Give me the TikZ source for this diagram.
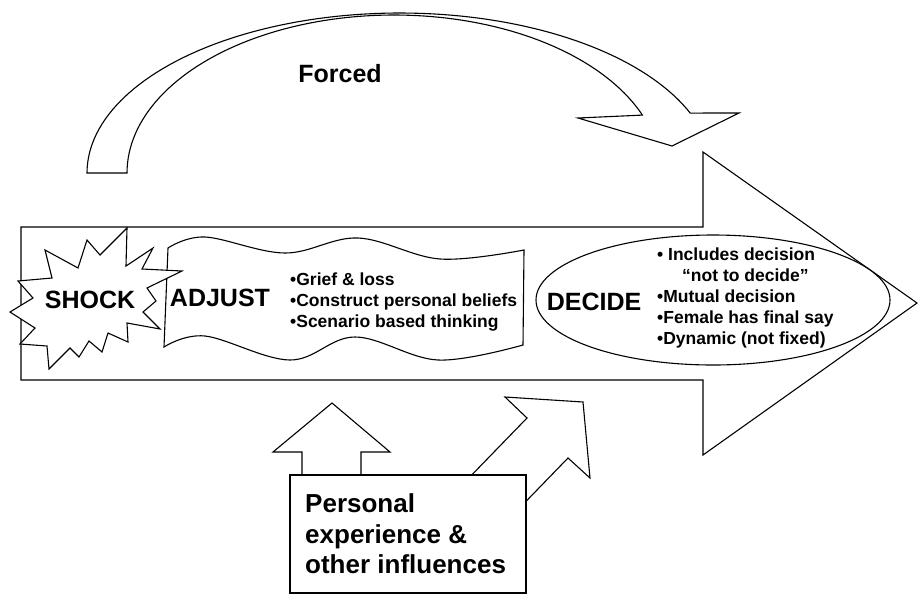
\documentclass[tikz,border=0pt]{standalone}
\usepackage{fontspec}
\setmainfont{Liberation Sans}
\begin{document}
\begin{tikzpicture}[x=1pt, y=-1pt, line join=miter,
  outline/.style={draw=black, line width=1.1pt, fill=white},
  big/.style={font=\fontsize{25}{30}\selectfont\bfseries, inner sep=0pt},
  small/.style={font=\fontsize{17.5}{21}\selectfont\bfseries, inner sep=0pt, anchor=base west},
  boxtext/.style={font=\fontsize{26}{31}\selectfont\bfseries, inner sep=0pt, anchor=base west}]
\useasboundingbox (0,0) rectangle (920,595);

% main process arrow
\draw[outline] (21,227) -- (703,227) -- (703,152) -- (917,303) -- (703,455)
  -- (703,380) -- (21,380) -- cycle;

% curved "forced" arrow over the top
\draw[outline]
  plot[domain=180:22, samples=90] ({400+313*cos(\x)},{173-160*sin(\x)})
  -- (739,113) -- (672,146) -- (578,118)
  -- plot[domain=21.5:180, samples=90] ({394+267*cos(\x)},{173-158*sin(\x)})
  -- cycle;

% wavy banner for the adjust stage
\draw[outline]
  plot[smooth, tension=0.6] coordinates {(168,248) (205,237) (285,253) (358,238) (440,259) (524,250)}
  -- plot[smooth, tension=0.6] coordinates {(523,345) (438,360) (355,337) (290,360) (205,336) (164,347)}
  -- cycle;

% starburst for the shock stage
\draw[outline] (127,228) -- (126,266) -- (153,248) -- (142,269) -- (182,271)
  -- (147,288) -- (156,301) -- (143,312) -- (160,329) -- (127,323) -- (128,342)
  -- (108,333) -- (102,352) -- (89,341) -- (79,357) -- (70,348) -- (49,369)
  -- (47,346) -- (20,344) -- (35,328) -- (10,312) -- (33,298) -- (18,281)
  -- (52,278) -- (45,250) -- (78,268) -- (87,240) -- (100,255) -- cycle;

% ellipse for the decide stage
\draw[outline] (713,300) ellipse [x radius=177pt, y radius=65pt];

% influence arrows below
\draw[outline] (302,485) -- (302,452) -- (273,452) -- (332,403) -- (390,452)
  -- (361,452) -- (361,485) -- cycle;
\draw[outline] (462,485) -- (527,418) -- (505,397) -- (583,402) -- (590,478)
  -- (568,458) -- (505,523) -- cycle;

% influences box
\draw[outline] (290,475) rectangle (526,593);

% labels
\node[big] (forced) at (340,74) {Forced};
\node[big] (shock) at (90,300) {SHOCK};
\node[big] (adjust) at (220,298) {ADJUST};
\node[big] (decide) at (594,302) {DECIDE};

\node[small] (g1) at (290,285) {•Grief \& loss};
\node[small] (g2) at (290,306) {•Construct personal beliefs};
\node[small] (g3) at (290,327) {•Scenario based thinking};

\node[small] (d1) at (657,260) {• Includes decision};
\node[small] (d2) at (682,281) {“not to decide”};
\node[small] (d3) at (657,302) {•Mutual decision};
\node[small] (d4) at (657,323) {•Female has final say};
\node[small] (d5) at (657,344) {•Dynamic (not fixed)};

\node[boxtext] (p1) at (305,512) {Personal};
\node[boxtext] (p2) at (305,543) {experience \&};
\node[boxtext] (p3) at (305,573) {other influences};
\end{tikzpicture}
\end{document}
